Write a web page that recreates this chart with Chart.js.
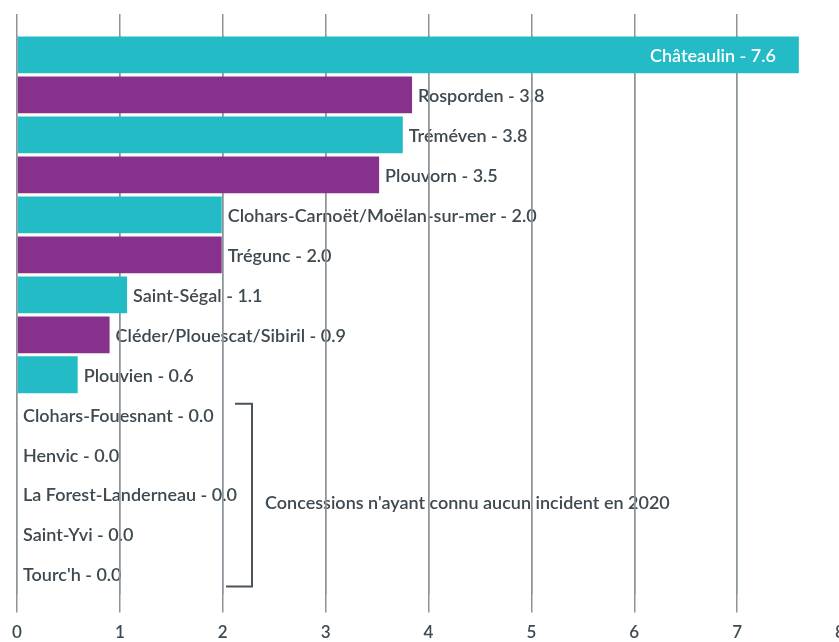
<!DOCTYPE html>
<html lang="fr">
<head>
<meta charset="utf-8">
<script src="https://cdn.jsdelivr.net/npm/chart.js@4/dist/chart.umd.min.js"></script>
<style>
    html, body { margin: 0; padding: 0; background: #fff; overflow: hidden; }
    #cadre { width: 845px; height: 642px; }
</style>
</head>
<body>
<div id="cadre"><canvas id="incidents"></canvas></div>
<script>
const communes = [
    'Châteaulin', 'Rosporden', 'Tréméven', 'Plouvorn',
    'Clohars-Carnoët/Moëlan-sur-mer', 'Trégunc', 'Saint-Ségal',
    'Cléder/Plouescat/Sibiril', 'Plouvien', 'Clohars-Fouesnant',
    'Henvic', 'La Forest-Landerneau', 'Saint-Yvi', "Tourc'h"
];
const valeurs = [7.6, 3.84, 3.75, 3.52, 1.99, 1.99, 1.07, 0.9, 0.59, 0, 0, 0, 0, 0];
const graduations = [0, 1, 2, 3, 4, 5, 6, 7, 8];
const noteZero = "Concessions n'ayant connu aucun incident en 2020";

const turquoise = '#22bbc6';
const violet = '#87318d';
const texte = '#3e4950';
const grille = '#8c9499';
const police = '600 18px Lato, "Noto Sans", sans-serif';

const couleurs = valeurs.map((v, i) => i % 2 === 0 ? turquoise : violet);

function libelle(i) {
    return communes[i] + ' - ' + valeurs[i].toFixed(1);
}

// libellés hors barres : dessinés avant la grille pour que les traits passent dessus
const libellesExterieurs = {
    id: 'libellesExterieurs',
    beforeDraw(chart) {
        const ctx = chart.ctx;
        const barres = chart.getDatasetMeta(0).data;
        ctx.save();
        ctx.font = police;
        ctx.fillStyle = texte;
        ctx.textBaseline = 'middle';
        ctx.textAlign = 'left';
        barres.forEach((barre, i) => {
            if (i === 0) return;
            ctx.fillText(libelle(i), barre.x + 6, barre.y + 1);
        });

        // accolade des communes sans incident
        const y = chart.scales.y;
        const premier = valeurs.indexOf(0);
        const haut = y.getPixelForValue(premier) - 11;
        const bas = y.getPixelForValue(valeurs.length - 1) + 12;
        const xb = 252;
        ctx.strokeStyle = '#4a5459';
        ctx.lineWidth = 2;
        ctx.beginPath();
        ctx.moveTo(235, haut);
        ctx.lineTo(xb, haut);
        ctx.lineTo(xb, bas);
        ctx.lineTo(226, bas);
        ctx.stroke();
        ctx.fillText(noteZero, xb + 13, (haut + bas) / 2 + 8);
        ctx.restore();
    },
    afterDatasetsDraw(chart) {
        const ctx = chart.ctx;
        const barre = chart.getDatasetMeta(0).data[0];
        ctx.save();
        ctx.font = police;
        ctx.fillStyle = '#ffffff';
        ctx.textBaseline = 'middle';
        ctx.textAlign = 'right';
        ctx.fillText(libelle(0), barre.x - 23, barre.y + 1);
        ctx.restore();
    }
};

function sansMarge(scale) {
    scale.paddingLeft = 0;
    scale.paddingRight = 0;
}

new Chart(document.getElementById('incidents'), {
    type: 'bar',
    data: {
        labels: communes,
        datasets: [{
            data: valeurs,
            backgroundColor: couleurs,
            borderWidth: 0,
            barPercentage: 0.92,
            categoryPercentage: 1
        }]
    },
    options: {
        indexAxis: 'y',
        responsive: true,
        maintainAspectRatio: false,
        animation: false,
        layout: { padding: { left: 17, right: 5, top: 14, bottom: -11 } },
        plugins: {
            legend: { display: false },
            tooltip: { enabled: false }
        },
        scales: {
            x: {
                position: 'bottom',
                min: 0,
                max: 8,
                afterBuildTicks(scale) {
                    scale.ticks = graduations.map(v => ({ value: v }));
                },
                grid: { color: grille, lineWidth: 1.5, tickLength: 18 },
                border: { display: false },
                ticks: {
                    color: texte,
                    font: { family: 'Lato, "Noto Sans", sans-serif', size: 17, weight: '600' },
                    padding: 10,
                    maxRotation: 0,
                    autoSkip: false
                },
                afterFit: sansMarge
            },
            xHaut: {
                type: 'linear',
                axis: 'x',
                position: 'top',
                min: 0,
                max: 8,
                afterBuildTicks(scale) {
                    scale.ticks = graduations.map(v => ({ value: v }));
                },
                grid: { color: grille, lineWidth: 1.5, tickLength: 21 },
                border: { display: false },
                ticks: { display: false },
                afterFit: sansMarge
            },
            y: {
                display: false,
                grid: { display: false }
            }
        }
    },
    plugins: [libellesExterieurs]
});
</script>
</body>
</html>
